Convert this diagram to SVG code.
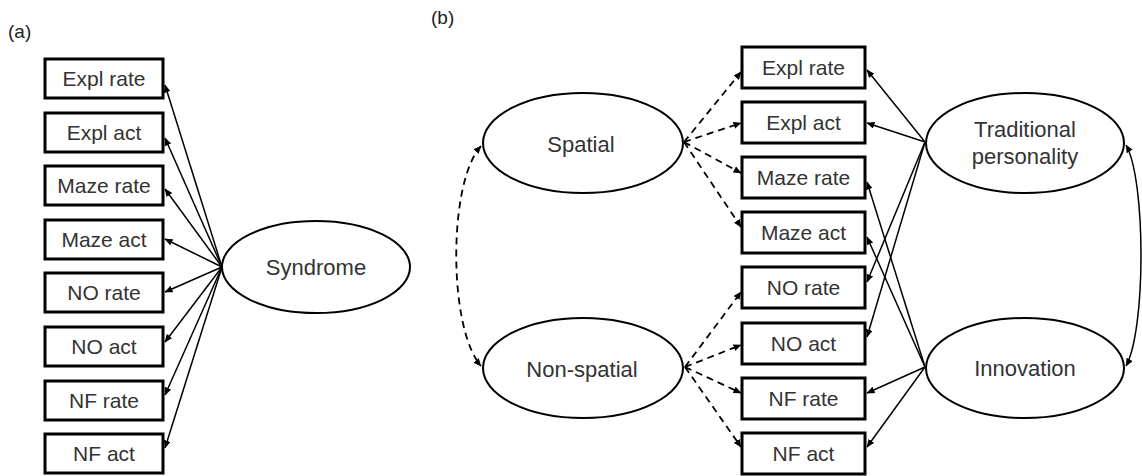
<svg xmlns="http://www.w3.org/2000/svg" width="1142" height="476" viewBox="0 0 1142 476">
<style>
  .box { fill: #fff; stroke: #000; stroke-width: 3; }
  .ell { fill: #fff; stroke: #000; stroke-width: 2; }
  .lbl { font-family: "Liberation Sans", Arial, sans-serif; font-size: 21px; fill: #333; text-anchor: middle; }
  .elbl { font-family: "Liberation Sans", Arial, sans-serif; font-size: 22px; fill: #333; text-anchor: middle; }
  .panel { font-family: "Liberation Sans", Arial, sans-serif; font-size: 19px; fill: #222; }
  .c { fill: none; stroke: #000; stroke-width: 1.5; marker-end: url(#ah); }
  .d { fill: none; stroke: #000; stroke-width: 1.8; stroke-dasharray: 7 5; marker-end: url(#ah); }
  .dd { fill: none; stroke: #000; stroke-width: 1.8; stroke-dasharray: 7 5; marker-start: url(#ahs); marker-end: url(#ah); }
  .cc { fill: none; stroke: #000; stroke-width: 1.5; marker-start: url(#ahs); marker-end: url(#ah); }
</style>
<defs>
  <marker id="ah" markerUnits="userSpaceOnUse" markerWidth="8" markerHeight="7" refX="7.5" refY="3.5" orient="auto">
    <path d="M0,0 L8,3.5 L0,7 z" fill="#000"/>
  </marker>
  <marker id="ahs" markerUnits="userSpaceOnUse" markerWidth="8" markerHeight="7" refX="0.5" refY="3.5" orient="auto">
    <path d="M8,0 L0,3.5 L8,7 z" fill="#000"/>
  </marker>
</defs>
<rect width="1142" height="476" fill="#fff"/>

<text class="panel" x="8" y="38">(a)</text>
<text class="panel" x="431" y="24">(b)</text>

<!-- connectors -->
<g id="connectors">
  <!-- panel a -->
  <line class="c" x1="222" y1="267" x2="165" y2="85"/>
  <line class="c" x1="222" y1="267" x2="165" y2="138"/>
  <line class="c" x1="222" y1="267" x2="165" y2="189"/>
  <line class="c" x1="222" y1="267" x2="165" y2="239"/>
  <line class="c" x1="222" y1="267" x2="165" y2="292"/>
  <line class="c" x1="222" y1="267" x2="165" y2="342"/>
  <line class="c" x1="222" y1="267" x2="165" y2="395"/>
  <line class="c" x1="222" y1="267" x2="165" y2="448"/>
  <!-- panel b: spatial -->
  <line class="d" x1="684" y1="142" x2="741" y2="72"/>
  <line class="d" x1="684" y1="142" x2="741" y2="123"/>
  <line class="d" x1="684" y1="142" x2="741" y2="173"/>
  <line class="d" x1="684" y1="142" x2="741" y2="227"/>
  <!-- non-spatial -->
  <line class="d" x1="685" y1="367" x2="741" y2="292"/>
  <line class="d" x1="685" y1="367" x2="741" y2="345"/>
  <line class="d" x1="685" y1="367" x2="741" y2="393"/>
  <line class="d" x1="685" y1="367" x2="741" y2="447"/>
  <!-- traditional personality -->
  <line class="c" x1="925" y1="142" x2="867" y2="70"/>
  <line class="c" x1="925" y1="142" x2="867" y2="123"/>
  <line class="c" x1="925" y1="142" x2="867" y2="282"/>
  <line class="c" x1="925" y1="142" x2="867" y2="337"/>
  <!-- innovation -->
  <line class="c" x1="925" y1="367" x2="867" y2="182"/>
  <line class="c" x1="925" y1="367" x2="867" y2="237"/>
  <line class="c" x1="925" y1="367" x2="867" y2="393"/>
  <line class="c" x1="925" y1="367" x2="867" y2="447"/>
  <!-- covariances -->
  <path class="dd" d="M481,146 C448,182 448,328 481,366"/>
  <path class="cc" d="M1126,145 C1146,180 1146,330 1126,366"/>
</g>

<!-- panel a nodes -->
<g id="a-expl-rate"><rect class="box" x="45" y="59" width="118" height="39"/><text class="lbl" x="104" y="86">Expl rate</text></g>
<g id="a-expl-act"><rect class="box" x="45" y="113" width="118" height="39"/><text class="lbl" x="104" y="140">Expl act</text></g>
<g id="a-maze-rate"><rect class="box" x="45" y="166" width="118" height="39"/><text class="lbl" x="104" y="193">Maze rate</text></g>
<g id="a-maze-act"><rect class="box" x="45" y="220" width="118" height="39"/><text class="lbl" x="104" y="247">Maze act</text></g>
<g id="a-no-rate"><rect class="box" x="45" y="273" width="118" height="39"/><text class="lbl" x="104" y="300">NO rate</text></g>
<g id="a-no-act"><rect class="box" x="45" y="327" width="118" height="39"/><text class="lbl" x="104" y="354">NO act</text></g>
<g id="a-nf-rate"><rect class="box" x="45" y="381" width="118" height="39"/><text class="lbl" x="104" y="408">NF rate</text></g>
<g id="a-nf-act"><rect class="box" x="45" y="434" width="118" height="39"/><text class="lbl" x="104" y="461">NF act</text></g>
<g id="syndrome"><ellipse class="ell" cx="316" cy="267" rx="94" ry="46"/><text class="elbl" x="316" y="275">Syndrome</text></g>

<!-- panel b nodes -->
<g id="b-expl-rate"><rect class="box" x="742" y="47" width="123" height="41"/><text class="lbl" x="803.5" y="75">Expl rate</text></g>
<g id="b-expl-act"><rect class="box" x="742" y="102" width="123" height="41"/><text class="lbl" x="803.5" y="130">Expl act</text></g>
<g id="b-maze-rate"><rect class="box" x="742" y="157" width="123" height="41"/><text class="lbl" x="803.5" y="185">Maze rate</text></g>
<g id="b-maze-act"><rect class="box" x="742" y="212" width="123" height="41"/><text class="lbl" x="803.5" y="240">Maze act</text></g>
<g id="b-no-rate"><rect class="box" x="742" y="267" width="123" height="41"/><text class="lbl" x="803.5" y="295">NO rate</text></g>
<g id="b-no-act"><rect class="box" x="742" y="323" width="123" height="41"/><text class="lbl" x="803.5" y="351">NO act</text></g>
<g id="b-nf-rate"><rect class="box" x="742" y="378" width="123" height="41"/><text class="lbl" x="803.5" y="406">NF rate</text></g>
<g id="b-nf-act"><rect class="box" x="742" y="433" width="123" height="41"/><text class="lbl" x="803.5" y="461">NF act</text></g>
<g id="spatial"><ellipse class="ell" cx="583" cy="143" rx="100" ry="50"/><text class="elbl" x="581" y="152">Spatial</text></g>
<g id="non-spatial"><ellipse class="ell" cx="583" cy="368" rx="100" ry="50"/><text class="elbl" x="582" y="377">Non-spatial</text></g>
<g id="traditional-personality"><ellipse class="ell" cx="1025" cy="143" rx="99" ry="50"/><text class="elbl" x="1025" y="137">Traditional</text><text class="elbl" x="1025" y="164">personality</text></g>
<g id="innovation"><ellipse class="ell" cx="1025" cy="368" rx="99" ry="50"/><text class="elbl" x="1025" y="376">Innovation</text></g>
</svg>
